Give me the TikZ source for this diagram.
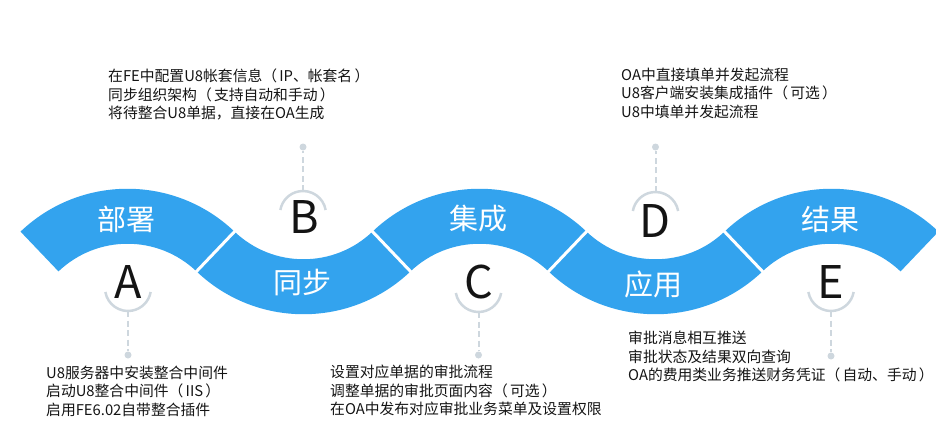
\documentclass[tikz,border=0pt]{standalone}
\usepackage{fontspec}
\setmainfont{Noto Sans CJK SC}
\usetikzlibrary{calc}
\definecolor{ribbon}{RGB}{51,163,238}
\definecolor{guide}{RGB}{206,215,222}
\definecolor{ink}{RGB}{20,20,20}
\newcommand\lp{（\hspace{0.15em}}
\newcommand\rp{\hspace{0.15em}）}
\begin{document}
\begin{tikzpicture}[x=1pt,y=1pt,
  band/.style={fill=ribbon},
  seam/.style={draw=white,line width=3pt},
  tag/.style={text=white,font=\fontsize{29}{29}\selectfont,inner sep=0pt},
  letter/.style={text=ink,font=\fontsize{45}{45}\selectfont,inner sep=0pt},
  ring/.style={draw=guide,line width=2.5pt},
  guideline/.style={draw=guide,line width=2pt,dash pattern=on 6pt off 3.5pt},
  dot/.style={circle,fill=guide,inner sep=0pt,minimum size=7pt},
  note/.style={align=left,anchor=north west,inner sep=0pt,font=\fontsize{14.8}{18.3}\selectfont,text=ink}]
\useasboundingbox (0,0) rectangle (936,-436);
\pgfmathsetmacro\th{46.35}
\pgfmathsetmacro\tha{180-\th}
\pgfmathsetmacro\thb{180+\th}
\pgfmathsetmacro\thc{360-\th}
% up arches
\foreach \cx in {127.5,479.5,831.5}{
  \fill[band] ($(\cx,-343.75)+(\th:155pt)$) arc[start angle=\th,end angle=\tha,radius=155pt]
    -- ($(\cx,-343.75)+(\tha:100pt)$) arc[start angle=\tha,end angle=\th,radius=100pt] -- cycle;
}
% down arches
\foreach \cx in {303.5,655.5}{
  \fill[band] ($(\cx,-159.25)+(\thb:155pt)$) arc[start angle=\thb,end angle=\thc,radius=155pt]
    -- ($(\cx,-159.25)+(\thc:100pt)$) arc[start angle=\thc,end angle=\thb,radius=100pt] -- cycle;
}
% seams
\draw[seam] ($(127.5,-343.75)+(\th:96pt)$) -- ($(127.5,-343.75)+(\th:159pt)$);
\draw[seam] ($(479.5,-343.75)+(\tha:96pt)$) -- ($(479.5,-343.75)+(\tha:159pt)$);
\draw[seam] ($(479.5,-343.75)+(\th:96pt)$) -- ($(479.5,-343.75)+(\th:159pt)$);
\draw[seam] ($(831.5,-343.75)+(\tha:96pt)$) -- ($(831.5,-343.75)+(\tha:159pt)$);
% ribbon labels
\node[tag] (t1) at (126,-219) {部署};
\node[tag] (t2) at (302,-283) {同步};
\node[tag] (t3) at (478,-219) {集成};
\node[tag] (t4) at (653,-284) {应用};
\node[tag] (t5) at (830,-219) {结果};
% rings
\draw[ring] (128,-288) ++(190:23pt) arc[start angle=190,end angle=350,radius=23pt];
\draw[ring] (303,-214) ++(10:23pt) arc[start angle=10,end angle=170,radius=23pt];
\draw[ring] (478.5,-289) ++(190:23pt) arc[start angle=190,end angle=350,radius=23pt];
\draw[ring] (655.5,-215) ++(10:23pt) arc[start angle=10,end angle=170,radius=23pt];
\draw[ring] (831,-288) ++(190:23pt) arc[start angle=190,end angle=350,radius=23pt];
% letters
\node[letter] (lA) at (128,-282) {A};
\node[letter] (lB) at (304,-217) {B};
\node[letter] (lC) at (479,-282) {C};
\node[letter] (lD) at (655,-221) {D};
\node[letter] (lE) at (831,-282) {E};
% connector ends
\coordinate (rA) at (128,-311);
\coordinate (rB) at (303,-191);
\coordinate (rC) at (478.5,-312);
\coordinate (rD) at (655.5,-192);
\coordinate (rE) at (831,-311);
\node[dot] (dA) at (128,-355) {};
\node[dot] (dB) at (303,-147) {};
\node[dot] (dC) at (478.5,-355) {};
\node[dot] (dD) at (655.5,-147) {};
\node[dot] (dE) at (831,-356) {};
\draw[guideline] (rA) -- (dA);
\draw[guideline] (rB) -- (dB);
\draw[guideline] (rC) -- (dC);
\draw[guideline] (rD) -- (dD);
\draw[guideline] (rE) -- (dE);
% notes
\node[note] (nA) at (46,-366) {U8服务器中安装整合中间件\\启动U8整合中间件\lp IIS\rp\\启用FE6.02自带整合插件};
\node[note] (nB) at (108,-69) {在FE中配置U8帐套信息\lp IP、帐套名\rp\\同步组织架构\lp 支持自动和手动\rp\\将待整合U8单据，直接在OA生成};
\node[note] (nC) at (330,-365) {设置对应单据的审批流程\\调整单据的审批页面内容\lp 可选\rp\\在OA中发布对应审批业务菜单及设置权限};
\node[note] (nD) at (621,-68) {OA中直接填单并发起流程\\U8客户端安装集成插件\lp 可选\rp\\U8中填单并发起流程};
\node[note] (nE) at (628,-331) {审批消息相互推送\\审批状态及结果双向查询\\OA的费用类业务推送财务凭证\lp 自动、手动\rp};
\end{tikzpicture}
\end{document}
